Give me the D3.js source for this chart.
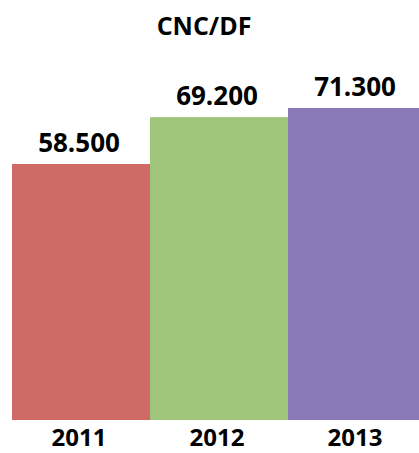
<!DOCTYPE html>
<html>
<head>
<meta charset="utf-8">
<script src="https://cdn.jsdelivr.net/npm/d3@7"></script>
<style>
  html, body { margin: 0; padding: 0; background: #fff; overflow: hidden; }
  text { font-family: "Open Sans", "Noto Sans", sans-serif; font-weight: bold; fill: #000; }
</style>
</head>
<body>
<svg id="chart" width="419" height="453"></svg>
<script>
// chart data
var title = "CNC/DF";
var years = ["2011", "2012", "2013"];
var values = [58.5, 69.2, 71.3];
var colors = ["#cf6a66", "#9ec57a", "#8c79b8"];

var svg = d3.select("#chart"),
	plotLeft = 12,
	plotRight = 426,   // last bar runs past the window edge
	plotBottom = 420,
	plotTop = 108;

var x = d3.scaleBand()
	.domain(years)
	.range([plotLeft, plotRight])
	.padding(0);

var y = d3.scaleLinear()
	.domain([0, d3.max(values)])
	.range([plotBottom, plotTop]);

var data = years.map(function(d, i) { return {year: d, value: values[i], color: colors[i]}; });

// bars
svg.selectAll("rect.bar")
	.data(data)
	.enter().append("rect")
	.attr("class", "bar")
	.attr("x", function(d) { return x(d.year); })
	.attr("y", function(d) { return y(d.value); })
	.attr("width", x.bandwidth())
	.attr("height", function(d) { return plotBottom - y(d.value); })
	.attr("fill", function(d) { return d.color; });

// value labels
svg.selectAll("text.val")
	.data(data)
	.enter().append("text")
	.attr("class", "val")
	.attr("x", function(d) { return x(d.year) + x.bandwidth() / 2 - 2; })
	.attr("y", function(d) { return y(d.value) - 12; })
	.attr("text-anchor", "middle")
	.style("font-size", "26px")
	.text(function(d) { return d3.format(".3f")(d.value); });

// category axis labels
var xAxis = d3.axisBottom(x).tickSize(0).tickPadding(0);
var ax = svg.append("g")
	.attr("transform", "translate(-2," + plotBottom + ")")
	.call(xAxis);
ax.select(".domain").remove();
ax.selectAll("text")
	.attr("dy", null)
	.attr("y", 26)
	.style("font-size", "24px");

// title
svg.append("text")
	.attr("x", 204)
	.attr("y", 35)
	.attr("text-anchor", "middle")
	.style("font-size", "25px")
	.text(title);
</script>
</body>
</html>
